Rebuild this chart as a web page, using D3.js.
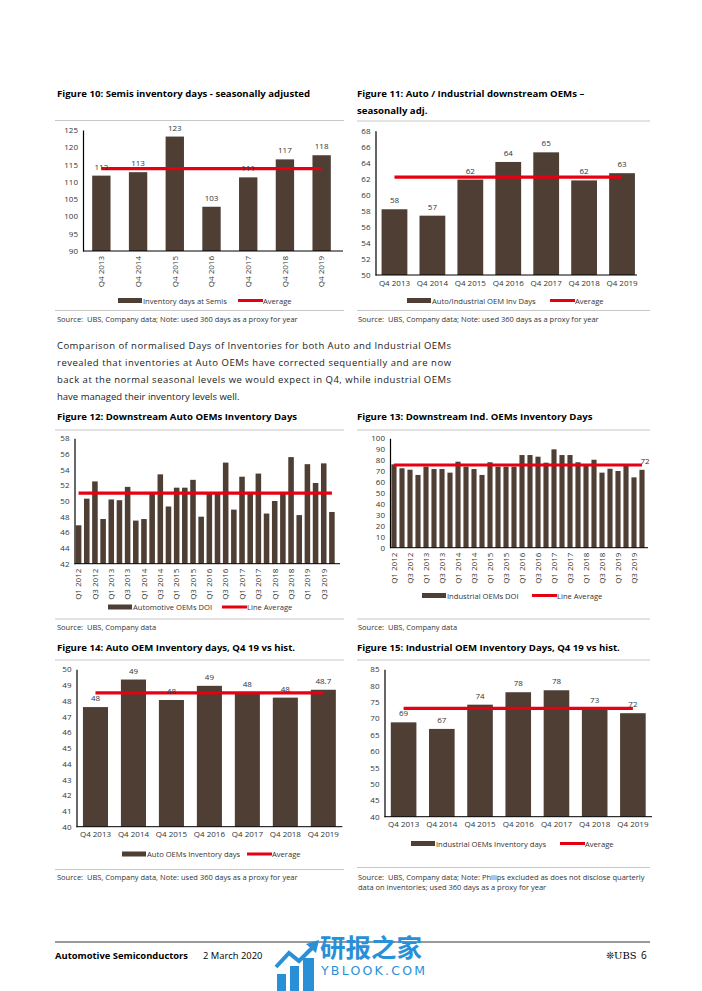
<!DOCTYPE html>
<html>
<head>
<meta charset="utf-8">
<script src="https://cdn.jsdelivr.net/npm/d3@7"></script>
<style>
  body { margin: 0; background: #fff; }
  text { font-family: "Open Sans", "Noto Sans", sans-serif; }
</style>
</head>
<body>
<script>
// ---- data ----
const annualCats = ["Q4 2013", "Q4 2014", "Q4 2015", "Q4 2016", "Q4 2017", "Q4 2018", "Q4 2019"];

const semisDays = [111.8, 112.8, 123.1, 102.8, 111.3, 116.5, 117.7];
const semisLabels = ["112", "113", "123", "103", "111", "117", "118"];
const semisAvg = 113.8;

const oemDays = [58.2, 57.4, 61.9, 64.1, 65.3, 61.8, 62.7];
const oemLabels = ["58", "57", "62", "64", "65", "62", "63"];
const oemAvg = 62.2;

const quarterCats = [
  "Q1 2012", "Q2 2012", "Q3 2012", "Q4 2012", "Q1 2013", "Q2 2013", "Q3 2013", "Q4 2013",
  "Q1 2014", "Q2 2014", "Q3 2014", "Q4 2014", "Q1 2015", "Q2 2015", "Q3 2015", "Q4 2015",
  "Q1 2016", "Q2 2016", "Q3 2016", "Q4 2016", "Q1 2017", "Q2 2017", "Q3 2017", "Q4 2017",
  "Q1 2018", "Q2 2018", "Q3 2018", "Q4 2018", "Q1 2019", "Q2 2019", "Q3 2019", "Q4 2019"
];

const autoDoi = [46.9, 50.3, 52.5, 47.7, 50.2, 50.1, 51.8, 47.5,
                 47.7, 50.9, 53.4, 49.3, 51.7, 51.7, 52.7, 48.0,
                 50.9, 50.9, 54.9, 48.9, 53.1, 50.9, 53.5, 48.4,
                 50.0, 50.9, 55.6, 48.2, 54.7, 52.3, 54.8, 48.6];
const autoDoiAvg = 51.0;

const indDoi = [76.2, 72.6, 71.3, 66.5, 74.1, 71.9, 71.9, 68.6,
                78.6, 74.1, 71.9, 66.5, 78.1, 74.1, 74.1, 74.1,
                84.7, 84.7, 83.2, 77.7, 89.9, 84.7, 84.7, 78.1,
                74.7, 80.4, 68.6, 72.2, 70.1, 74.7, 64.3, 71.2];
const indDoiLabels = {31: "72"};
const indDoiAvg = 75.6;

const autoQ4 = [47.6, 49.35, 48.05, 48.95, 48.5, 48.2, 48.7];
const autoQ4Labels = ["48", "49", "48", "49", "48", "48", "48.7"];
const autoQ4Avg = 48.5;

const indQ4 = [68.8, 66.8, 74.2, 78.0, 78.6, 73.0, 71.6];
const indQ4Labels = ["69", "67", "74", "78", "78", "73", "72"];
const indQ4Avg = 73.1;

const paraLines = [
  "Comparison of normalised Days of Inventories for both Auto and Industrial OEMs",
  "revealed that inventories at Auto OEMs have corrected sequentially and are now",
  "back at the normal seasonal levels we would expect in Q4, while industrial OEMs",
  "have managed their inventory levels well."
];

// ---- styles ----
const BAR = "#4e3e33";
const RED = "#e60012";
const RULE = "#c8c8c8";
const TXT = "#333";

const svg = d3.select("body").append("svg")
  .attr("width", 702).attr("height", 991);

function title(x, y, lines) {
  lines.forEach((t, i) => {
    svg.append("text").attr("x", x).attr("y", y + i * 17)
      .attr("font-size", 9.6).attr("font-weight", "bold").attr("fill", "#000")
      .text(t);
  });
}

function rule(x1, x2, y) {
  svg.append("line").attr("x1", x1).attr("x2", x2).attr("y1", y).attr("y2", y)
    .attr("stroke", RULE).attr("stroke-width", 1);
}

function source(x, y, lines) {
  lines.forEach((t, i) => {
    svg.append("text").attr("x", x).attr("y", y + i * 10)
      .attr("font-size", 7.5).attr("fill", TXT).attr("xml:space", "preserve")
      .text(t);
  });
}

function legend(y, barX, barLabel, lineX, lineLabel) {
  svg.append("rect").attr("x", barX).attr("y", y - 2.5).attr("width", 24).attr("height", 5)
    .attr("fill", BAR);
  svg.append("text").attr("x", barX + 25).attr("y", y + 3).attr("font-size", 7.6)
    .attr("fill", TXT).text(barLabel);
  svg.append("line").attr("x1", lineX).attr("x2", lineX + 25).attr("y1", y).attr("y2", y)
    .attr("stroke", RED).attr("stroke-width", 3);
  svg.append("text").attr("x", lineX + 25).attr("y", y + 3).attr("font-size", 7.6)
    .attr("fill", TXT).text(lineLabel);
}

function barChart(c) {
  const g = svg.append("g");
  const x = d3.scaleBand().domain(c.cats).range([c.left, c.right])
    .paddingInner(c.pad).paddingOuter(c.pad / 2);
  const y = d3.scaleLinear().domain(c.domain).range([c.bottom, c.top]);

  // bars
  g.selectAll("rect.bar").data(c.vals).enter().append("rect")
    .attr("class", "bar")
    .attr("x", (d, i) => x(c.cats[i]))
    .attr("width", x.bandwidth())
    .attr("y", d => y(d))
    .attr("height", d => y(c.domain[0]) - y(d))
    .attr("fill", BAR);

  // y axis
  const ticks = d3.range(c.domain[0], c.domain[1] + c.step / 2, c.step);
  const ya = g.append("g").attr("transform", `translate(${c.left},0)`)
    .call(d3.axisLeft(y).tickValues(ticks).tickSize(0).tickPadding(5));
  ya.select(".domain").attr("stroke", "#000").attr("stroke-width", 1.2);
  ya.selectAll("text").attr("font-size", 8).attr("fill", TXT)
    .style("font-family", "'Open Sans', sans-serif");

  // x axis
  const xa = g.append("g").attr("transform", `translate(0,${c.bottom})`)
    .call(d3.axisBottom(x).tickSize(0).tickSizeOuter(0).tickPadding(5)
      .tickValues(c.cats.filter((d, i) => i % (c.every || 1) === 0)));
  xa.select(".domain").attr("stroke", "#000").attr("stroke-width", 1)
    .attr("d", `M${c.left},0H${c.axisRight || c.right}`);
  xa.selectAll("text").attr("font-size", 8).attr("fill", TXT)
    .style("font-family", "'Open Sans', sans-serif");
  if (c.rotate) {
    xa.selectAll("text")
      .attr("transform", "rotate(-90)")
      .attr("x", -5).attr("y", 0).attr("dy", "0.35em")
      .style("text-anchor", "end");
  }

  // average line
  g.append("line")
    .attr("x1", x(c.cats[0]) + x.bandwidth() / 2)
    .attr("x2", x(c.cats[c.cats.length - 1]) + x.bandwidth() / 2)
    .attr("y1", y(c.avg)).attr("y2", y(c.avg))
    .attr("stroke", RED).attr("stroke-width", 3.2);

  // value labels
  if (c.labels) {
    c.vals.forEach((d, i) => {
      const lab = c.labels[i];
      if (lab === undefined) return;
      g.append("text")
        .attr("x", x(c.cats[i]) + x.bandwidth() / 2 + (c.labelShift || 0))
        .attr("y", y(d) - 6)
        .attr("text-anchor", "middle")
        .attr("font-size", 8).attr("fill", TXT)
        .text(lab);
    });
  }
}

// ---- Figure 10 ----
title(57, 97, ["Figure 10: Semis inventory days - seasonally adjusted"]);
rule(55, 344, 120.5);
barChart({cats: annualCats, vals: semisDays, labels: semisLabels, avg: semisAvg,
  left: 83, right: 340, axisRight: 343, top: 130, bottom: 251, domain: [90, 125], step: 5,
  pad: 0.5, rotate: true});
legend(300.5, 118, "Inventory days at Semis", 238, "Average");
rule(55, 344, 310.5);
source(57, 322, ["Source:  UBS, Company data; Note: used 360 days as a proxy for year"]);

// ---- Figure 11 ----
title(357, 97, ["Figure 11: Auto / Industrial downstream OEMs \u2013", "seasonally adj."]);
rule(357, 650, 121);
barChart({cats: annualCats, vals: oemDays, labels: oemLabels, avg: oemAvg,
  left: 375.5, right: 641, axisRight: 637, top: 130.7, bottom: 275, domain: [50, 68], step: 2,
  pad: 0.32});
legend(300.5, 407, "Auto/Industrial OEM Inv Days", 550, "Average");
rule(357, 650, 310.5);
source(358, 322, ["Source:  UBS, Company data; Note: used 360 days as a proxy for year"]);

// ---- paragraph ----
paraLines.forEach((t, i) => {
  const tx = svg.append("text").attr("x", 57).attr("y", 349 + i * 16.9)
    .attr("font-size", 9.5).attr("fill", "#222").text(t);
  if (i < paraLines.length - 1) tx.attr("textLength", 394).attr("lengthAdjust", "spacing");
});

// ---- Figure 12 ----
title(57, 420, ["Figure 12: Downstream Auto OEMs Inventory Days"]);
rule(55, 344, 430);
barChart({cats: quarterCats, vals: autoDoi, avg: autoDoiAvg,
  left: 74.5, right: 336, axisRight: 340, top: 438.3, bottom: 563.7, domain: [42, 58], step: 2,
  pad: 0.32, rotate: true, every: 2});
legend(607, 108, "Automotive OEMs DOI", 222, "Line Average");
rule(55, 344, 619);
source(57, 630, ["Source:  UBS, Company data"]);

// ---- Figure 13 ----
title(357, 420, ["Figure 13: Downstream Ind. OEMs Inventory Days"]);
rule(357, 650, 430);
barChart({cats: quarterCats, vals: indDoi, labels: indDoiLabels, avg: indDoiAvg,
  left: 390, right: 646, axisRight: 648, top: 438.3, bottom: 547.7, domain: [0, 100], step: 10,
  pad: 0.36, rotate: true, every: 2, labelShift: 3});
legend(595.5, 422, "Industrial OEMs DOI", 532, "Line Average");
rule(357, 650, 619);
source(358, 630, ["Source:  UBS, Company data"]);

// ---- Figure 14 ----
title(57, 651, ["Figure 14: Auto OEM Inventory days, Q4 19 vs hist."]);
rule(55, 344, 660);
barChart({cats: annualCats, vals: autoQ4, labels: autoQ4Labels, avg: autoQ4Avg,
  left: 76.5, right: 342.3, axisRight: 342.3, top: 669.3, bottom: 826.7, domain: [40, 50], step: 1,
  pad: 0.34});
legend(854, 122, "Auto OEMs Inventory days", 247, "Average");
rule(55, 344, 869.5);
source(57, 880, ["Source:  UBS, Company data, Note: used 360 days as a proxy for year"]);

// ---- Figure 15 ----
title(357, 651, ["Figure 15: Industrial OEM Inventory Days, Q4 19 vs hist."]);
rule(357, 650, 660);
barChart({cats: annualCats, vals: indQ4, labels: indQ4Labels, avg: indQ4Avg,
  left: 384.5, right: 652, axisRight: 652, top: 669.3, bottom: 816.7, domain: [40, 85], step: 5,
  pad: 0.33});
legend(843.5, 411, "Industrial OEMs Inventory days", 560, "Average");
rule(357, 650, 867.5);
source(358, 880, ["Source:  UBS, Company data; Note: Philips excluded as does not disclose quarterly",
                  "data on inventories; used 360 days as a proxy for year"]);

// ---- footer ----
svg.append("line").attr("x1", 55).attr("x2", 650).attr("y1", 942).attr("y2", 942)
  .attr("stroke", "#000").attr("stroke-width", 0.8);
svg.append("text").attr("x", 55).attr("y", 959).attr("font-size", 9.4)
  .attr("font-weight", "bold").attr("fill", "#000").text("Automotive Semiconductors");
svg.append("text").attr("x", 203).attr("y", 959).attr("font-size", 9.4)
  .attr("fill", "#000").text("2 March 2020");
svg.append("text").attr("x", 606).attr("y", 959).attr("font-size", 10)
  .attr("fill", "#000").style("font-family", "'DejaVu Serif', serif").text("\u274AUBS");
svg.append("text").attr("x", 641).attr("y", 959).attr("font-size", 10)
  .attr("fill", "#000").text("6");

// watermark
const wm = svg.append("g").attr("fill", "#2990d8");
wm.append("rect").attr("x", 277).attr("y", 974).attr("width", 9).attr("height", 17);
wm.append("rect").attr("x", 290).attr("y", 966).attr("width", 9).attr("height", 25);
wm.append("rect").attr("x", 303).attr("y", 958).attr("width", 11).attr("height", 33);
wm.append("polyline").attr("points", "276,967 289,953 299,961 313,947")
  .attr("fill", "none").attr("stroke", "#2990d8").attr("stroke-width", 4);
wm.append("polygon").attr("points", "306,944 319,940 316,953");
wm.append("text").attr("x", 320).attr("y", 957).attr("font-size", 25.5)
  .attr("font-weight", "bold").style("font-family", "'Noto Sans CJK SC', sans-serif")
  .text("研报之家");
wm.append("text").attr("x", 321).attr("y", 975).attr("font-size", 12.5)
  .attr("textLength", 104).attr("lengthAdjust", "spacing")
  .style("font-family", "'DejaVu Sans', sans-serif")
  .text("YBLOOK.COM");
</script>
</body>
</html>
